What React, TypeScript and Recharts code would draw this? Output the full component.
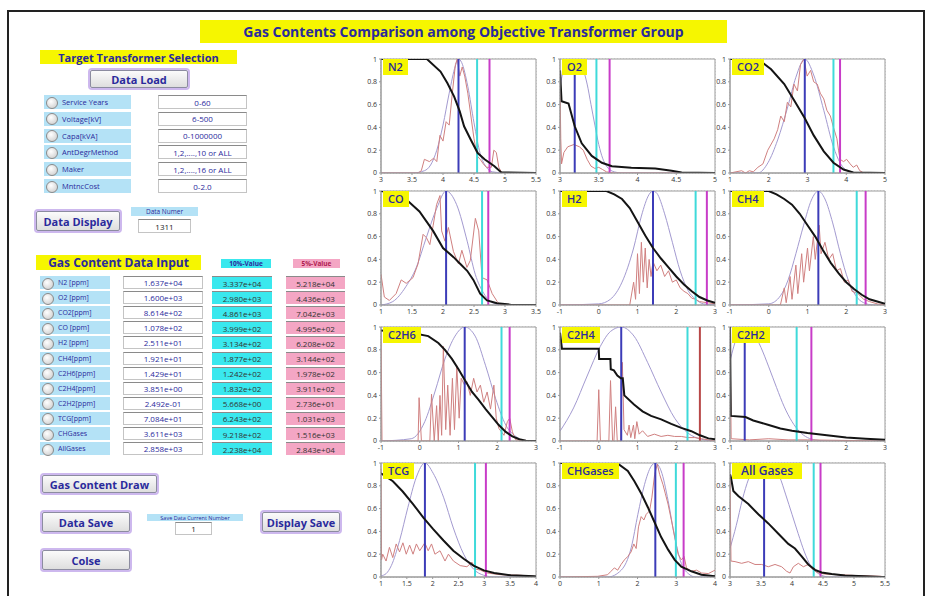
import React from 'react';
import { LineChart, Line, XAxis, YAxis, CartesianGrid, ReferenceLine, ReferenceArea } from 'recharts';

type Pt = [number, number];

// ---- left panel texts ----
const SELECT_LABELS = ['Service Years', 'Voltage[kV]', 'Capa[kVA]', 'AntDegrMethod', 'Maker', 'MntncCost'];
const SELECT_VALUES = ['0-60', '6-500', '0-1000000', '1,2,....,10 or ALL', '1,2,....,16 or ALL', '0-2.0'];

const GAS_LABELS = ['N2 [ppm]', 'O2 [ppm]', 'CO2[ppm]', 'CO [ppm]', 'H2 [ppm]', 'CH4[ppm]', 'C2H6[ppm]', 'C2H4[ppm]', 'C2H2[ppm]', 'TCG[ppm]', 'CHGases', 'AllGases'];
const GAS_INPUT = ['1.637e+04', '1.600e+03', '8.614e+02', '1.078e+02', '2.511e+01', '1.921e+01', '1.429e+01', '3.851e+00', '2.492e-01', '7.084e+01', '3.611e+03', '2.858e+03'];
const GAS_P10 = ['3.337e+04', '2.980e+03', '4.861e+03', '3.999e+02', '3.134e+02', '1.877e+02', '1.242e+02', '1.832e+02', '5.668e+00', '6.243e+02', '9.218e+02', '2.238e+04'];
const GAS_P5 = ['5.218e+04', '4.436e+03', '7.042e+03', '4.995e+02', '6.208e+02', '3.144e+02', '1.978e+02', '3.911e+02', '2.736e+01', '1.031e+03', '1.516e+03', '2.843e+04'];

// ---- chart grid ----
const PANEL_NAMES = ['N2', 'O2', 'CO2', 'CO', 'H2', 'CH4', 'C2H6', 'C2H4', 'C2H2', 'TCG', 'CHGases', 'All Gases'];
const X_DOMAINS: Pt[] = [[3, 5.5], [3, 5], [1, 5], [1, 3.5], [-1, 3], [-1, 3], [-1, 3], [-1, 3], [-1, 3], [1, 4], [0, 4], [3, 5.5]];
const X_TICKS = [
  [3, 3.5, 4, 4.5, 5, 5.5],
  [3, 3.5, 4, 4.5, 5],
  [1, 2, 3, 4, 5],
  [1, 1.5, 2, 2.5, 3, 3.5],
  [-1, 0, 1, 2, 3],
  [-1, 0, 1, 2, 3],
  [-1, 0, 1, 2, 3],
  [-1, 0, 1, 2, 3],
  [-1, 0, 1, 2, 3],
  [1, 1.5, 2, 2.5, 3, 3.5, 4],
  [0, 1, 2, 3, 4],
  [3, 3.5, 4, 4.5, 5, 5.5],
];
const Y_TICKS = [0, 0.2, 0.4, 0.6, 0.8, 1];

// vertical markers (log10 values): mean, 10%, 5%
const MEAN_X = [4.25, 3.19, 2.93, 2.05, 1.4, 1.28, 1.16, 0.58, -0.62, 1.85, 2.46, 3.55];
const P10_X = [4.55, 3.47, 3.67, 2.63, 2.5, 2.27, 2.11, 2.29, 0.72, 2.82, 2.99, 4.35];
const P5_X = [4.75, 3.64, 3.84, 2.73, 2.79, 2.5, 2.32, 2.61, 1.1, 3.03, 3.19, 4.46];

// cumulative (black) curves
const N2_CUM: Pt[] = [[3, 1], [3.74, 1], [3.96, 0.89], [4.07, 0.79], [4.18, 0.67], [4.27, 0.54], [4.34, 0.41], [4.45, 0.29], [4.56, 0.175], [4.67, 0.12], [4.83, 0.06], [4.94, 0.005], [5.5, 0]];
const O2_CUM: Pt[] = [[3, 0.9], [3.02, 0.63], [3.11, 0.61], [3.19, 0.41], [3.28, 0.26], [3.41, 0.15], [3.54, 0.09], [3.67, 0.06], [3.92, 0.045], [4.23, 0.04], [4.44, 0.02], [4.57, 0.005], [5, 0]];
const CO2_CUM: Pt[] = [[1, 1], [1.72, 1], [2.06, 0.91], [2.4, 0.78], [2.65, 0.64], [2.93, 0.48], [3.16, 0.33], [3.42, 0.19], [3.67, 0.09], [3.93, 0.03], [4.18, 0.005], [5, 0]];
const CO_CUM: Pt[] = [[1, 1], [1.2, 0.98], [1.4, 0.93], [1.62, 0.82], [1.84, 0.65], [2.0, 0.5], [2.17, 0.42], [2.28, 0.36], [2.39, 0.3], [2.49, 0.22], [2.6, 0.1], [2.71, 0.04], [2.87, 0.015], [3.09, 0.003], [3.5, 0]];
const H2_CUM: Pt[] = [[-1, 1], [0.2, 1], [0.4, 0.97], [0.6, 0.93], [0.8, 0.85], [1.0, 0.73], [1.2, 0.61], [1.4, 0.5], [1.6, 0.41], [1.8, 0.33], [2.0, 0.25], [2.2, 0.18], [2.4, 0.12], [2.6, 0.07], [2.8, 0.04], [3, 0.02]];
const CH4_CUM: Pt[] = [[-1, 1], [0, 1], [0.2, 0.97], [0.4, 0.93], [0.6, 0.88], [0.8, 0.8], [1.0, 0.7], [1.2, 0.6], [1.4, 0.48], [1.6, 0.37], [1.8, 0.28], [2.0, 0.2], [2.2, 0.14], [2.4, 0.09], [2.6, 0.05], [2.8, 0.03], [3, 0.01]];
const C2H6_CUM: Pt[] = [[-1, 0.97], [-0.3, 0.95], [-0.09, 0.94], [0.22, 0.92], [0.48, 0.86], [0.65, 0.8], [0.83, 0.72], [1.0, 0.63], [1.17, 0.53], [1.35, 0.43], [1.52, 0.36], [1.7, 0.28], [1.87, 0.21], [2.04, 0.14], [2.22, 0.08], [2.39, 0.04], [2.57, 0.015], [2.74, 0.003], [3, 0]];
const C2H4_CUM: Pt[] = [[-1, 0.95], [-0.95, 0.81], [0.0, 0.81], [0.01, 0.72], [0.3, 0.72], [0.31, 0.63], [0.39, 0.62], [0.48, 0.575], [0.57, 0.55], [0.62, 0.55], [0.66, 0.4], [0.91, 0.32], [1.13, 0.26], [1.35, 0.22], [1.61, 0.19], [1.87, 0.15], [2.13, 0.115], [2.39, 0.086], [2.61, 0.05], [2.83, 0.023], [3, 0.015]];
const C2H2_CUM: Pt[] = [[-1, 1], [-0.98, 0.22], [-0.6, 0.21], [-0.4, 0.18], [-0.2, 0.16], [0, 0.14], [0.3, 0.11], [0.6, 0.09], [1.0, 0.07], [1.5, 0.05], [2.0, 0.03], [2.5, 0.02], [3, 0.01]];
const TCG_CUM: Pt[] = [[1, 0.91], [1.23, 0.84], [1.42, 0.75], [1.62, 0.64], [1.82, 0.52], [2.01, 0.42], [2.21, 0.32], [2.4, 0.23], [2.6, 0.16], [2.79, 0.1], [2.99, 0.058], [3.19, 0.035], [3.51, 0.015], [3.97, 0.006], [4, 0.005]];
const CHG_CUM: Pt[] = [[0, 1], [1.32, 1], [1.53, 0.985], [1.75, 0.93], [1.92, 0.84], [2.1, 0.73], [2.27, 0.61], [2.44, 0.48], [2.61, 0.35], [2.79, 0.24], [2.96, 0.15], [3.13, 0.09], [3.39, 0.05], [3.65, 0.02], [4, 0.006]];
const ALL_CUM: Pt[] = [[3, 0.9], [3.016, 0.87], [3.054, 0.755], [3.134, 0.71], [3.296, 0.64], [3.457, 0.55], [3.618, 0.47], [3.78, 0.38], [3.941, 0.29], [4.048, 0.25], [4.156, 0.18], [4.263, 0.11], [4.371, 0.063], [4.478, 0.04], [4.64, 0.026], [4.855, 0.014], [5.177, 0.006], [5.446, 0], [5.5, 0]];

// fitted (lavender) curves
const N2_FIT: Pt[] = [[3, 0], [3.5, 0], [3.7, 0.02], [3.8, 0.07], [3.9, 0.2], [4.0, 0.42], [4.1, 0.7], [4.2, 0.94], [4.25, 1], [4.3, 0.97], [4.4, 0.76], [4.5, 0.44], [4.6, 0.17], [4.7, 0.05], [4.8, 0.01], [5.0, 0], [5.5, 0]];
const O2_FIT: Pt[] = [[3, 0.75], [3.05, 0.92], [3.1, 0.97], [3.2, 0.97], [3.3, 0.9], [3.35, 0.78], [3.4, 0.6], [3.45, 0.42], [3.5, 0.25], [3.55, 0.13], [3.6, 0.06], [3.7, 0.01], [3.8, 0], [5, 0]];
const CO2_FIT: Pt[] = [[1, 0], [1.72, 0], [1.98, 0.09], [2.23, 0.29], [2.49, 0.58], [2.7, 0.84], [2.93, 1], [3.16, 0.86], [3.42, 0.55], [3.67, 0.23], [3.84, 0.09], [4.1, 0.01], [4.4, 0], [5, 0]];
const CO_FIT: Pt[] = [[1, 0], [1.19, 0.03], [1.4, 0.16], [1.57, 0.33], [1.73, 0.59], [1.9, 0.85], [2.05, 1], [2.22, 0.88], [2.39, 0.56], [2.52, 0.27], [2.66, 0.1], [2.82, 0.015], [3, 0], [3.5, 0]];
const H2_FIT: Pt[] = [[-1, 0], [0, 0.01], [0.3, 0.05], [0.6, 0.2], [0.9, 0.5], [1.1, 0.78], [1.3, 0.97], [1.4, 1], [1.5, 0.98], [1.7, 0.8], [1.9, 0.55], [2.1, 0.3], [2.3, 0.13], [2.5, 0.05], [2.7, 0.01], [3, 0]];
const CH4_FIT: Pt[] = [[-1, 0], [0, 0.01], [0.3, 0.08], [0.5, 0.22], [0.7, 0.45], [0.9, 0.7], [1.1, 0.92], [1.28, 1], [1.45, 0.93], [1.65, 0.72], [1.85, 0.45], [2.05, 0.22], [2.25, 0.08], [2.45, 0.02], [2.7, 0], [3, 0]];
const C2H6_FIT: Pt[] = [[-1, 0], [-0.22, 0.02], [0.13, 0.17], [0.39, 0.43], [0.65, 0.72], [0.91, 0.92], [1.16, 1], [1.43, 0.92], [1.7, 0.66], [1.96, 0.37], [2.22, 0.14], [2.48, 0.04], [2.74, 0], [3, 0]];
const C2H4_FIT: Pt[] = [[-1, 0.086], [-0.65, 0.29], [-0.3, 0.57], [0.04, 0.83], [0.3, 0.96], [0.58, 1], [0.91, 0.92], [1.26, 0.69], [1.61, 0.43], [1.96, 0.2], [2.3, 0.07], [2.65, 0.015], [3, 0]];
const C2H2_FIT: Pt[] = [[-1, 0.7], [-0.8, 0.93], [-0.6, 1], [-0.4, 0.95], [-0.2, 0.82], [0, 0.65], [0.2, 0.47], [0.4, 0.3], [0.6, 0.17], [0.8, 0.08], [1.0, 0.03], [1.2, 0.01], [1.5, 0], [3, 0]];
const TCG_FIT: Pt[] = [[1, 0.01], [1.1, 0.03], [1.2, 0.1], [1.36, 0.32], [1.52, 0.61], [1.68, 0.87], [1.85, 1], [2.01, 0.91], [2.21, 0.7], [2.4, 0.43], [2.6, 0.2], [2.79, 0.07], [2.99, 0.015], [3.2, 0], [4, 0]];
const CHG_FIT: Pt[] = [[0, 0], [1.23, 0], [1.58, 0.06], [1.84, 0.26], [2.01, 0.55], [2.18, 0.81], [2.35, 0.97], [2.46, 1], [2.61, 0.93], [2.79, 0.67], [2.96, 0.35], [3.13, 0.12], [3.31, 0.03], [3.5, 0], [4, 0]];
const ALL_FIT: Pt[] = [[3, 0.25], [3.1, 0.45], [3.2, 0.68], [3.3, 0.86], [3.4, 0.97], [3.56, 1], [3.7, 0.97], [3.8, 0.88], [3.9, 0.72], [4.0, 0.55], [4.1, 0.38], [4.2, 0.22], [4.3, 0.1], [4.4, 0.04], [4.5, 0.01], [4.6, 0], [5.5, 0]];

// histogram (red) curves
const N2_HIST: Pt[] = [[3, 0], [3.6, 0], [3.65, 0.02], [3.7, 0.12], [3.78, 0.1], [3.85, 0.13], [3.9, 0.1], [3.95, 0.33], [4.0, 0.28], [4.05, 0.45], [4.1, 0.42], [4.15, 0.7], [4.2, 0.95], [4.23, 1], [4.27, 0.85], [4.31, 0.93], [4.35, 0.85], [4.4, 0.7], [4.45, 0.5], [4.5, 0.3], [4.55, 0.15], [4.6, 0.12], [4.65, 0.08], [4.7, 0.05], [4.78, 0.05], [4.82, 0.2], [4.86, 0.18], [4.9, 0.05], [4.95, 0], [5.5, 0]];
const O2_HIST: Pt[] = [[3, 0.8], [3.01, 0.3], [3.02, 0.08], [3.05, 0.18], [3.1, 0.23], [3.18, 0.25], [3.25, 0.23], [3.3, 0.2], [3.35, 0.12], [3.4, 0.06], [3.45, 0.04], [3.5, 0.05], [3.55, 0.03], [3.6, 0.01], [3.7, 0], [5, 0]];
const CO2_HIST: Pt[] = [[1, 0], [1.3, 0.02], [1.4, 0], [1.5, 0.02], [1.6, 0.01], [1.72, 0.05], [1.85, 0.08], [1.975, 0.2], [2.14, 0.3], [2.23, 0.38], [2.31, 0.5], [2.4, 0.45], [2.48, 0.62], [2.57, 0.58], [2.65, 0.78], [2.74, 0.72], [2.82, 0.95], [2.91, 1], [2.99, 0.85], [3.08, 0.9], [3.16, 0.8], [3.25, 0.78], [3.33, 0.7], [3.42, 0.65], [3.5, 0.55], [3.59, 0.5], [3.67, 0.4], [3.76, 0.3], [3.8, 0.2], [3.84, 0.12], [3.93, 0.1], [4.01, 0.12], [4.1, 0.08], [4.18, 0.05], [4.27, 0.07], [4.35, 0.02], [4.45, 0], [5, 0]];
const CO_HIST: Pt[] = [[1, 0.27], [1.054, 0.07], [1.135, 0.04], [1.244, 0.1], [1.326, 0.22], [1.407, 0.19], [1.516, 0.24], [1.597, 0.36], [1.679, 0.62], [1.733, 0.59], [1.788, 0.53], [1.842, 0.7], [1.896, 0.88], [1.951, 0.96], [1.978, 0.65], [2.032, 0.56], [2.087, 0.68], [2.168, 0.47], [2.25, 0.36], [2.304, 0.48], [2.386, 0.33], [2.44, 0.39], [2.522, 0.76], [2.576, 0.65], [2.63, 0.24], [2.712, 0.22], [2.793, 0.1], [2.875, 0.03], [2.929, 0], [3.5, 0]];
const H2_HIST: Pt[] = [[-1, 0], [0.8, 0], [0.9, 0.2], [0.95, 0.05], [1.0, 0.45], [1.05, 0.1], [1.1, 0.55], [1.15, 0.2], [1.2, 0.5], [1.25, 0.15], [1.3, 0.4], [1.35, 0.25], [1.4, 0.38], [1.5, 0.3], [1.6, 0.35], [1.7, 0.25], [1.8, 0.3], [1.9, 0.2], [2.0, 0.22], [2.1, 0.15], [2.2, 0.12], [2.3, 0.1], [2.4, 0.06], [2.5, 0.05], [2.6, 0.03], [2.8, 0.02], [3, 0.01]];
const CH4_HIST: Pt[] = [[-1, 0], [0.3, 0], [0.4, 0.15], [0.45, 0.02], [0.55, 0.25], [0.6, 0.05], [0.7, 0.35], [0.75, 0.1], [0.85, 0.45], [0.9, 0.2], [1.0, 0.5], [1.05, 0.3], [1.15, 0.6], [1.2, 0.4], [1.3, 0.7], [1.35, 0.45], [1.45, 0.55], [1.55, 0.4], [1.65, 0.45], [1.75, 0.3], [1.85, 0.32], [1.95, 0.2], [2.05, 0.22], [2.15, 0.12], [2.3, 0.1], [2.45, 0.05], [2.6, 0.03], [2.8, 0.01], [3, 0]];
const C2H6_HIST: Pt[] = [[-1, 0.97], [-0.974, 0], [-0.043, 0], [-0.017, 0.38], [0.043, 0], [0.261, 0], [0.304, 0.41], [0.374, 0], [0.435, 0.31], [0.478, 0], [0.522, 0.4], [0.565, 0.05], [0.609, 0.83], [0.67, 0.1], [0.722, 0.49], [0.783, 0.05], [0.843, 0.55], [0.896, 0.1], [0.957, 0.66], [1.017, 0.2], [1.07, 0.55], [1.157, 0.49], [1.217, 0.52], [1.304, 0.4], [1.391, 0.55], [1.478, 0.43], [1.565, 0.49], [1.652, 0.34], [1.739, 0.43], [1.826, 0.28], [1.913, 0.49], [1.974, 0.2], [2.043, 0.11], [2.174, 0.05], [2.261, 0.17], [2.322, 0.2], [2.391, 0.08], [2.478, 0.01], [3, 0]];
const C2H4_HIST: Pt[] = [[-1, 0], [-0.043, 0], [0.0, 0.45], [0.043, 0], [0.261, 0], [0.304, 0.53], [0.357, 0], [0.391, 0], [0.435, 0.3], [0.478, 0], [0.565, 0], [0.609, 0.69], [0.652, 0.1], [0.739, 0.05], [0.783, 0.14], [0.826, 0.03], [0.896, 0.14], [0.93, 0.02], [0.983, 0.17], [1.043, 0.06], [1.13, 0.09], [1.261, 0.04], [1.435, 0.06], [1.609, 0.04], [1.783, 0.05], [1.957, 0.04], [2.13, 0.04], [2.304, 0.03], [2.478, 0.03], [2.652, 0.02], [2.826, 0.01], [3, 0]];
const C2H2_HIST: Pt[] = [[-1, 0.95], [-0.97, 0.02], [-0.5, 0.01], [0, 0.02], [0.5, 0.01], [1, 0.01], [3, 0]];
const TCG_HIST: Pt[] = [[1, 0.95], [1.01, 0.15], [1.033, 0.2], [1.098, 0.14], [1.163, 0.26], [1.228, 0.17], [1.294, 0.29], [1.359, 0.22], [1.424, 0.3], [1.489, 0.2], [1.554, 0.28], [1.62, 0.2], [1.685, 0.29], [1.75, 0.23], [1.848, 0.3], [1.913, 0.23], [1.978, 0.29], [2.044, 0.2], [2.142, 0.23], [2.239, 0.14], [2.305, 0.2], [2.402, 0.14], [2.533, 0.1], [2.663, 0.09], [2.761, 0.13], [2.826, 0.07], [2.924, 0.06], [3.055, 0.035], [3.316, 0.02], [3.707, 0.015], [3.968, 0.006]];
const CHG_HIST: Pt[] = [[0, 0], [0.97, 0.006], [1.229, 0.02], [1.316, 0.05], [1.403, 0.08], [1.489, 0.06], [1.576, 0.11], [1.662, 0.15], [1.749, 0.18], [1.835, 0.22], [1.905, 0.29], [1.965, 0.25], [2.026, 0.44], [2.095, 0.53], [2.165, 0.5], [2.225, 0.55], [2.312, 0.58], [2.372, 0.7], [2.442, 0.9], [2.511, 0.99], [2.571, 0.9], [2.658, 0.81], [2.719, 0.73], [2.788, 0.64], [2.874, 0.5], [2.961, 0.35], [3.048, 0.2], [3.134, 0.15], [3.203, 0.18], [3.264, 0.08], [3.394, 0.05], [3.524, 0.06], [3.654, 0.035], [3.827, 0.03], [4.0, 0.06]];
const ALL_HIST: Pt[] = [[3, 0.9], [3.016, 0.14], [3.081, 0.135], [3.188, 0.12], [3.296, 0.135], [3.403, 0.11], [3.511, 0.11], [3.618, 0.09], [3.726, 0.11], [3.833, 0.09], [3.914, 0.05], [3.968, 0.035], [4.022, 0.09], [4.102, 0.12], [4.183, 0.09], [4.263, 0.11], [4.344, 0.06], [4.425, 0.035], [4.532, 0.026], [4.747, 0.02], [5.07, 0.012], [5.446, 0.006]];

const CUM = [N2_CUM, O2_CUM, CO2_CUM, CO_CUM, H2_CUM, CH4_CUM, C2H6_CUM, C2H4_CUM, C2H2_CUM, TCG_CUM, CHG_CUM, ALL_CUM];
const FIT = [N2_FIT, O2_FIT, CO2_FIT, CO_FIT, H2_FIT, CH4_FIT, C2H6_FIT, C2H4_FIT, C2H2_FIT, TCG_FIT, CHG_FIT, ALL_FIT];
const HIST = [N2_HIST, O2_HIST, CO2_HIST, CO_HIST, H2_HIST, CH4_HIST, C2H6_HIST, C2H4_HIST, C2H2_HIST, TCG_HIST, CHG_HIST, ALL_HIST];

const toPts = (arr: Pt[]) => arr.map(([x, y]) => ({ x, y }));

const NAVY = '#2a2a9c';
const FONT = '"Open Sans", "DejaVu Sans", sans-serif';

const PLOT_W = 155;
const PLOT_H = 114;
const COL_X = [381, 560, 730];
const ROW_Y = [59, 191, 327, 463];
const Y_AXIS_W = 20;
const X_AXIS_H = 14;
const RIGHT_PAD = 9;

function GasPanel({ i }: { i: number }) {
  const col = i % 3;
  const row = Math.floor(i / 3);
  const [x0, x1] = X_DOMAINS[i];
  const p5Color = PANEL_NAMES[i] === 'C2H4' ? '#b84848' : '#c83cc8';
  return (
    <div style={{ position: 'absolute', left: COL_X[col] - Y_AXIS_W, top: ROW_Y[row] - 4 }}>
      <LineChart
        width={PLOT_W + Y_AXIS_W + RIGHT_PAD}
        height={PLOT_H + 4 + X_AXIS_H}
        margin={{ top: 4, right: RIGHT_PAD, bottom: 0, left: 0 }}
      >
        <ReferenceArea x1={x0} x2={x1} y1={0} y2={1} fill="#fff" fillOpacity={1} stroke="#9a9a9a" />
        <CartesianGrid stroke="#c4c4c4" strokeDasharray="1 2" />
        <XAxis
          type="number"
          dataKey="x"
          domain={[x0, x1]}
          ticks={X_TICKS[i]}
          interval={0}
          allowDataOverflow
          height={X_AXIS_H}
          tick={{ fontSize: 7, fill: '#333', fontFamily: FONT }}
          tickSize={2}
          stroke="#999"
        />
        <YAxis
          type="number"
          dataKey="y"
          domain={[0, 1]}
          ticks={Y_TICKS}
          interval={0}
          allowDataOverflow
          width={Y_AXIS_W}
          tick={{ fontSize: 7, fill: '#333', fontFamily: FONT }}
          tickSize={2}
          stroke="#999"
        />
        <Line data={toPts(FIT[i])} dataKey="y" type="monotone" stroke="#a39ad0" strokeWidth={1} dot={false} activeDot={false} isAnimationActive={false} />
        <Line data={toPts(HIST[i])} dataKey="y" type="linear" stroke="#d08080" strokeWidth={1} dot={false} activeDot={false} isAnimationActive={false} />
        <ReferenceLine x={MEAN_X[i]} stroke="#3c3cb8" strokeWidth={2} />
        <ReferenceLine x={P10_X[i]} stroke="#3fdada" strokeWidth={2} />
        <ReferenceLine x={P5_X[i]} stroke={p5Color} strokeWidth={2} />
        <Line data={toPts(CUM[i])} dataKey="y" type="linear" stroke="#141414" strokeWidth={2} dot={false} activeDot={false} isAnimationActive={false} />
      </LineChart>
      <div
        style={{
          position: 'absolute',
          left: Y_AXIS_W + 2,
          top: 4,
          height: 16,
          lineHeight: '16px',
          padding: PANEL_NAMES[i] === 'All Gases' ? '0 9px' : '0 5px',
          background: '#f6f600',
          color: NAVY,
          fontSize: PANEL_NAMES[i] === 'All Gases' ? 12 : 11,
          fontFamily: FONT,
          fontWeight: 600,
        }}
      >
        {PANEL_NAMES[i]}
      </div>
    </div>
  );
}

function Box({ l, t, w, h, bg, children, style }: any) {
  return (
    <div
      style={{
        position: 'absolute', left: l, top: t, width: w, height: h, background: bg,
        display: 'flex', alignItems: 'center', justifyContent: 'center', boxSizing: 'border-box',
        color: NAVY, fontFamily: FONT, ...style,
      }}
    >
      {children}
    </div>
  );
}

function Button({ l, t, w, h, label }: any) {
  return (
    <Box
      l={l} t={t} w={w} h={h}
      bg="linear-gradient(#fbfbfb, #dedede)"
      style={{ border: '1px solid #8c8ca0', boxShadow: '0 0 0 2px #cdb8ee', borderRadius: 2, fontWeight: 700, fontSize: 11 }}
    >
      {label}
    </Box>
  );
}

function Radio({ l, t }: any) {
  return (
    <div style={{
      position: 'absolute', left: l, top: t, width: 10, height: 10, borderRadius: '50%',
      border: '1px solid #8a8a8a', background: 'radial-gradient(circle at 40% 35%, #fff, #c8c8c8)',
    }} />
  );
}

const WHITE_FIELD = { border: '1px solid #c4c4c4', borderTop: '1px solid #8a8a8a', fontSize: 8 };

export default function App() {
  return (
    <div style={{ position: 'absolute', left: 0, top: 0, width: 930, height: 596, overflow: 'hidden', background: '#fff', fontFamily: FONT }}>
      <div style={{ position: 'absolute', left: 7, top: 10, width: 918, height: 620, border: '2px solid #222', boxSizing: 'border-box' }} />

      <Box l={200} t={20} w={527} h={23} bg="#f6f600" style={{ fontWeight: 700, fontSize: 14 }}>
        Gas Contents Comparison among Objective Transformer Group
      </Box>

      <Box l={40} t={50} w={197} h={14} bg="#f6f600" style={{ fontWeight: 700, fontSize: 11 }}>
        Target Transformer Selection
      </Box>
      <Button l={90} t={70} w={98} h={18} label="Data Load" />

      {SELECT_LABELS.map((lab, k) => {
        const t = 95 + k * 16.8;
        return (
          <React.Fragment key={lab}>
            <Box l={44} t={t} w={87} h={14} bg="#b4e2f6" style={{ justifyContent: 'flex-start', paddingLeft: 18, fontSize: 7.5 }}>{lab}</Box>
            <Radio l={46} t={t + 1.5} />
            <Box l={158} t={t} w={89} h={14} bg="#fff" style={WHITE_FIELD}>{SELECT_VALUES[k]}</Box>
          </React.Fragment>
        );
      })}

      <Button l={36} t={211} w={84} h={20} label="Data Display" />
      <Box l={131} t={207} w={67} h={9} bg="#b4e2f6" style={{ fontSize: 6.5 }}>Data Numer</Box>
      <Box l={138} t={219} w={53} h={14} bg="#fff" style={{ ...WHITE_FIELD, color: '#222' }}>1311</Box>

      <Box l={36} t={255} w={165} h={15} bg="#f6f600" style={{ fontWeight: 700, fontSize: 12 }}>Gas Content Data Input</Box>
      <Box l={221} t={259} w={50} h={9} bg="#3ae8ee" style={{ fontSize: 6.5, fontWeight: 700 }}>10%-Value</Box>
      <Box l={293} t={259} w={47} h={9} bg="#f4a6c4" style={{ fontSize: 6.5, fontWeight: 700, color: '#b02050' }}>5%-Value</Box>

      {GAS_LABELS.map((lab, k) => {
        const t = 276 + k * 15.1;
        return (
          <React.Fragment key={lab}>
            <Box l={40} t={t} w={70} h={13} bg="#b4e2f6" style={{ justifyContent: 'flex-start', paddingLeft: 18, fontSize: 7 }}>{lab}</Box>
            <Radio l={42} t={t + 1.5} />
            <Box l={123} t={t} w={80} h={13} bg="#fff" style={WHITE_FIELD}>{GAS_INPUT[k]}</Box>
            <Box l={212} t={t} w={60} h={13} bg="#3ae8ee" style={{ ...WHITE_FIELD, border: 'none', borderTop: '1px solid #8a8a8a', color: '#333' }}>{GAS_P10[k]}</Box>
            <Box l={286} t={t} w={59} h={13} bg="#f4a6c4" style={{ ...WHITE_FIELD, border: 'none', borderTop: '1px solid #8a8a8a', color: '#333' }}>{GAS_P5[k]}</Box>
          </React.Fragment>
        );
      })}

      <Button l={42} t={475} w={115} h={18} label="Gas Content Draw" />
      <Button l={42} t={512} w={88} h={20} label="Data Save" />
      <Box l={147} t={514} w={96} h={7} bg="#b4e2f6" style={{ fontSize: 5.5 }}>Save Data Current Number</Box>
      <Box l={175} t={522} w={37} h={13} bg="#fff" style={{ ...WHITE_FIELD, color: '#222' }}>1</Box>
      <Button l={262} t={512} w={78} h={20} label="Display Save" />
      <Button l={42} t={550} w={88} h={20} label="Colse" />

      {PANEL_NAMES.map((_, i) => (
        <GasPanel key={i} i={i} />
      ))}
    </div>
  );
}
